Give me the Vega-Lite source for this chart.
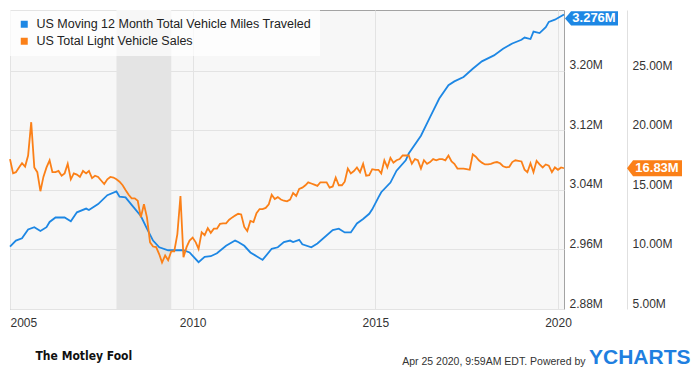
{
  "$schema": "https://vega.github.io/schema/vega-lite/v6.json",
  "width": 554,
  "height": 299,
  "autosize": {"type": "none"},
  "padding": {"left": 10, "top": 10, "right": 136, "bottom": 66},
  "background": "#ffffff",
  "config": {
    "font": "Liberation Sans",
    "view": {"fill": "#f7f7f7", "stroke": "#a3a3a3", "strokeWidth": 1},
    "axis": {"ticks": false, "labelFontSize": 12, "labelColor": "#333333", "gridColor": "#e3e3e3", "labelFont": "Liberation Sans"}
  },
  "datasets": {
    "recession": [{"d": "2007-12-01", "e": "2009-06-01"}],
    "vmt": [
      {"d": "2005-01-01", "v": 2.964}, {"d": "2005-03-01", "v": 2.972}, {"d": "2005-05-01", "v": 2.975},
      {"d": "2005-07-01", "v": 2.987}, {"d": "2005-09-01", "v": 2.990}, {"d": "2005-11-01", "v": 2.985},
      {"d": "2006-01-01", "v": 2.990}, {"d": "2006-02-01", "v": 2.997}, {"d": "2006-04-01", "v": 3.003},
      {"d": "2006-07-01", "v": 3.003}, {"d": "2006-09-01", "v": 2.998}, {"d": "2006-11-01", "v": 3.010},
      {"d": "2007-02-01", "v": 3.015}, {"d": "2007-03-01", "v": 3.013}, {"d": "2007-06-01", "v": 3.021},
      {"d": "2007-09-01", "v": 3.033}, {"d": "2007-12-01", "v": 3.038}, {"d": "2008-01-01", "v": 3.031},
      {"d": "2008-03-01", "v": 3.030}, {"d": "2008-05-01", "v": 3.020}, {"d": "2008-08-01", "v": 3.005},
      {"d": "2008-10-01", "v": 2.988}, {"d": "2008-12-01", "v": 2.972}, {"d": "2009-02-01", "v": 2.963},
      {"d": "2009-05-01", "v": 2.959}, {"d": "2009-08-01", "v": 2.959}, {"d": "2009-10-01", "v": 2.959},
      {"d": "2009-12-01", "v": 2.956}, {"d": "2010-03-01", "v": 2.943}, {"d": "2010-05-01", "v": 2.950},
      {"d": "2010-07-01", "v": 2.951}, {"d": "2010-09-01", "v": 2.955}, {"d": "2010-12-01", "v": 2.965},
      {"d": "2011-03-01", "v": 2.972}, {"d": "2011-04-01", "v": 2.970}, {"d": "2011-06-01", "v": 2.965},
      {"d": "2011-08-01", "v": 2.956}, {"d": "2011-12-01", "v": 2.946}, {"d": "2012-03-01", "v": 2.961},
      {"d": "2012-05-01", "v": 2.963}, {"d": "2012-07-01", "v": 2.970}, {"d": "2012-09-01", "v": 2.972},
      {"d": "2012-10-01", "v": 2.970}, {"d": "2012-12-01", "v": 2.973}, {"d": "2013-01-01", "v": 2.967},
      {"d": "2013-04-01", "v": 2.963}, {"d": "2013-06-01", "v": 2.968}, {"d": "2013-11-01", "v": 2.986},
      {"d": "2014-01-01", "v": 2.988}, {"d": "2014-03-01", "v": 2.983}, {"d": "2014-05-01", "v": 2.983},
      {"d": "2014-07-01", "v": 2.995}, {"d": "2014-09-01", "v": 3.001}, {"d": "2014-11-01", "v": 3.008},
      {"d": "2014-12-01", "v": 3.014}, {"d": "2015-01-01", "v": 3.022}, {"d": "2015-02-01", "v": 3.030},
      {"d": "2015-03-01", "v": 3.037}, {"d": "2015-06-01", "v": 3.050}, {"d": "2015-08-01", "v": 3.066},
      {"d": "2015-11-01", "v": 3.080}, {"d": "2015-12-01", "v": 3.089}, {"d": "2016-04-01", "v": 3.113},
      {"d": "2016-07-01", "v": 3.138}, {"d": "2016-10-01", "v": 3.163}, {"d": "2017-01-01", "v": 3.181},
      {"d": "2017-03-01", "v": 3.186}, {"d": "2017-06-01", "v": 3.192}, {"d": "2017-09-01", "v": 3.203},
      {"d": "2017-12-01", "v": 3.213}, {"d": "2018-04-01", "v": 3.221}, {"d": "2018-07-01", "v": 3.230},
      {"d": "2018-10-01", "v": 3.237}, {"d": "2019-01-01", "v": 3.242}, {"d": "2019-02-01", "v": 3.245},
      {"d": "2019-04-01", "v": 3.243}, {"d": "2019-05-01", "v": 3.253}, {"d": "2019-07-01", "v": 3.251},
      {"d": "2019-09-01", "v": 3.259}, {"d": "2019-10-01", "v": 3.266}, {"d": "2019-12-01", "v": 3.269},
      {"d": "2020-03-01", "v": 3.276}
    ],
    "sales": [
      {"d": "2005-01-01", "s": 17.6}, {"d": "2005-02-01", "s": 16.4}, {"d": "2005-03-01", "s": 16.5},
      {"d": "2005-04-01", "s": 16.9}, {"d": "2005-05-01", "s": 17.25}, {"d": "2005-06-01", "s": 16.97},
      {"d": "2005-07-01", "s": 17.9}, {"d": "2005-08-01", "s": 20.7}, {"d": "2005-09-01", "s": 16.9},
      {"d": "2005-10-01", "s": 16.5}, {"d": "2005-11-01", "s": 14.9}, {"d": "2005-12-01", "s": 16.1},
      {"d": "2006-01-01", "s": 16.9}, {"d": "2006-02-01", "s": 17.5}, {"d": "2006-03-01", "s": 16.5},
      {"d": "2006-04-01", "s": 16.5}, {"d": "2006-05-01", "s": 16.6}, {"d": "2006-06-01", "s": 16.2},
      {"d": "2006-07-01", "s": 16.4}, {"d": "2006-08-01", "s": 17.2}, {"d": "2006-09-01", "s": 15.9},
      {"d": "2006-10-01", "s": 16.4}, {"d": "2006-11-01", "s": 16.3}, {"d": "2006-12-01", "s": 16.1},
      {"d": "2007-01-01", "s": 16.6}, {"d": "2007-02-01", "s": 16.4}, {"d": "2007-03-01", "s": 16.6},
      {"d": "2007-04-01", "s": 16.0}, {"d": "2007-05-01", "s": 16.2}, {"d": "2007-06-01", "s": 16.1},
      {"d": "2007-07-01", "s": 15.8}, {"d": "2007-08-01", "s": 15.5}, {"d": "2007-09-01", "s": 15.9},
      {"d": "2007-10-01", "s": 16.1}, {"d": "2007-11-01", "s": 16.05}, {"d": "2007-12-01", "s": 15.9},
      {"d": "2008-01-01", "s": 15.7}, {"d": "2008-02-01", "s": 15.4}, {"d": "2008-03-01", "s": 15.0},
      {"d": "2008-04-01", "s": 14.6}, {"d": "2008-05-01", "s": 14.3}, {"d": "2008-06-01", "s": 14.3},
      {"d": "2008-07-01", "s": 14.1}, {"d": "2008-08-01", "s": 12.7}, {"d": "2008-09-01", "s": 13.8},
      {"d": "2008-10-01", "s": 12.7}, {"d": "2008-11-01", "s": 10.6}, {"d": "2008-12-01", "s": 10.25},
      {"d": "2009-01-01", "s": 10.2}, {"d": "2009-02-01", "s": 9.6}, {"d": "2009-03-01", "s": 8.9},
      {"d": "2009-04-01", "s": 9.5}, {"d": "2009-05-01", "s": 9.1}, {"d": "2009-06-01", "s": 9.85},
      {"d": "2009-07-01", "s": 9.85}, {"d": "2009-08-01", "s": 11.3}, {"d": "2009-09-01", "s": 14.5},
      {"d": "2009-10-01", "s": 9.35}, {"d": "2009-11-01", "s": 10.2}, {"d": "2009-12-01", "s": 10.75},
      {"d": "2010-01-01", "s": 11.0}, {"d": "2010-02-01", "s": 10.6}, {"d": "2010-03-01", "s": 10.05},
      {"d": "2010-04-01", "s": 11.45}, {"d": "2010-05-01", "s": 11.2}, {"d": "2010-06-01", "s": 11.8},
      {"d": "2010-07-01", "s": 11.4}, {"d": "2010-08-01", "s": 11.75}, {"d": "2010-09-01", "s": 11.75},
      {"d": "2010-10-01", "s": 12.15}, {"d": "2010-11-01", "s": 12.2}, {"d": "2010-12-01", "s": 12.2},
      {"d": "2011-01-01", "s": 12.5}, {"d": "2011-02-01", "s": 12.7}, {"d": "2011-03-01", "s": 12.85},
      {"d": "2011-04-01", "s": 13.0}, {"d": "2011-05-01", "s": 12.95}, {"d": "2011-06-01", "s": 11.9},
      {"d": "2011-07-01", "s": 11.55}, {"d": "2011-08-01", "s": 12.4}, {"d": "2011-09-01", "s": 12.3},
      {"d": "2011-10-01", "s": 13.05}, {"d": "2011-11-01", "s": 13.4}, {"d": "2011-12-01", "s": 13.4},
      {"d": "2012-01-01", "s": 13.5}, {"d": "2012-02-01", "s": 13.8}, {"d": "2012-03-01", "s": 14.6},
      {"d": "2012-04-01", "s": 14.25}, {"d": "2012-05-01", "s": 14.4}, {"d": "2012-06-01", "s": 14.2},
      {"d": "2012-07-01", "s": 14.1}, {"d": "2012-08-01", "s": 14.05}, {"d": "2012-09-01", "s": 14.2},
      {"d": "2012-10-01", "s": 14.75}, {"d": "2012-11-01", "s": 14.5}, {"d": "2012-12-01", "s": 15.1},
      {"d": "2013-01-01", "s": 15.2}, {"d": "2013-02-01", "s": 15.4}, {"d": "2013-03-01", "s": 15.65},
      {"d": "2013-04-01", "s": 15.55}, {"d": "2013-05-01", "s": 15.45}, {"d": "2013-06-01", "s": 15.35},
      {"d": "2013-07-01", "s": 15.65}, {"d": "2013-08-01", "s": 15.65}, {"d": "2013-09-01", "s": 15.65},
      {"d": "2013-10-01", "s": 15.2}, {"d": "2013-11-01", "s": 15.3}, {"d": "2013-12-01", "s": 16.05},
      {"d": "2014-01-01", "s": 15.4}, {"d": "2014-02-01", "s": 15.4}, {"d": "2014-03-01", "s": 15.7},
      {"d": "2014-04-01", "s": 16.8}, {"d": "2014-05-01", "s": 16.4}, {"d": "2014-06-01", "s": 16.6},
      {"d": "2014-07-01", "s": 16.9}, {"d": "2014-08-01", "s": 16.5}, {"d": "2014-09-01", "s": 17.2},
      {"d": "2014-10-01", "s": 16.2}, {"d": "2014-11-01", "s": 16.25}, {"d": "2014-12-01", "s": 16.75},
      {"d": "2015-01-01", "s": 16.7}, {"d": "2015-02-01", "s": 16.7}, {"d": "2015-03-01", "s": 16.4},
      {"d": "2015-04-01", "s": 17.5}, {"d": "2015-05-01", "s": 16.9}, {"d": "2015-06-01", "s": 17.7},
      {"d": "2015-07-01", "s": 17.3}, {"d": "2015-08-01", "s": 17.5}, {"d": "2015-09-01", "s": 17.6},
      {"d": "2015-10-01", "s": 17.9}, {"d": "2015-11-01", "s": 17.9}, {"d": "2015-12-01", "s": 17.9},
      {"d": "2016-01-01", "s": 17.2}, {"d": "2016-02-01", "s": 17.6}, {"d": "2016-03-01", "s": 17.5},
      {"d": "2016-04-01", "s": 16.8}, {"d": "2016-05-01", "s": 17.5}, {"d": "2016-06-01", "s": 17.2},
      {"d": "2016-07-01", "s": 17.35}, {"d": "2016-08-01", "s": 17.6}, {"d": "2016-09-01", "s": 17.5},
      {"d": "2016-10-01", "s": 17.6}, {"d": "2016-11-01", "s": 17.6}, {"d": "2016-12-01", "s": 17.5},
      {"d": "2017-01-01", "s": 17.9}, {"d": "2017-02-01", "s": 17.4}, {"d": "2017-03-01", "s": 17.2},
      {"d": "2017-04-01", "s": 16.8}, {"d": "2017-05-01", "s": 16.8}, {"d": "2017-06-01", "s": 16.8},
      {"d": "2017-07-01", "s": 16.75}, {"d": "2017-08-01", "s": 16.7}, {"d": "2017-09-01", "s": 18.0},
      {"d": "2017-10-01", "s": 17.8}, {"d": "2017-11-01", "s": 17.5}, {"d": "2017-12-01", "s": 17.3},
      {"d": "2018-01-01", "s": 17.15}, {"d": "2018-02-01", "s": 17.15}, {"d": "2018-03-01", "s": 17.2},
      {"d": "2018-04-01", "s": 17.3}, {"d": "2018-05-01", "s": 17.35}, {"d": "2018-06-01", "s": 17.25},
      {"d": "2018-07-01", "s": 17.0}, {"d": "2018-08-01", "s": 16.9}, {"d": "2018-09-01", "s": 16.95},
      {"d": "2018-10-01", "s": 17.35}, {"d": "2018-11-01", "s": 17.5}, {"d": "2018-12-01", "s": 17.45},
      {"d": "2019-01-01", "s": 17.4}, {"d": "2019-02-01", "s": 16.7}, {"d": "2019-03-01", "s": 16.5},
      {"d": "2019-04-01", "s": 17.25}, {"d": "2019-05-01", "s": 16.5}, {"d": "2019-06-01", "s": 17.45},
      {"d": "2019-07-01", "s": 17.15}, {"d": "2019-08-01", "s": 16.9}, {"d": "2019-09-01", "s": 17.15},
      {"d": "2019-10-01", "s": 17.05}, {"d": "2019-11-01", "s": 16.5}, {"d": "2019-12-01", "s": 16.9},
      {"d": "2020-01-01", "s": 16.7}, {"d": "2020-02-01", "s": 16.9}, {"d": "2020-03-01", "s": 16.83}
    ],
    "vmtLast": [{"d": "2020-03-01", "v": 3.276, "label": "3.276M"}],
    "salesLast": [{"d": "2020-03-01", "s": 16.83, "label": "16.83M"}]
  },
  "encoding": {
    "x": {
      "field": "d",
      "type": "temporal",
      "scale": {"type": "utc", "domain": [{"year": 2005, "month": 1, "date": 1, "utc": true}, {"year": 2020, "month": 3, "date": 1, "utc": true}]},
      "axis": {
        "values": [{"year": 2005, "utc": true}, {"year": 2010, "utc": true}, {"year": 2015, "utc": true}, {"year": 2020, "utc": true}],
        "labelExpr": "utcFormat(datum.value, '%Y')",
        "grid": true,
        "domain": false,
        "ticks": false,
        "labelPadding": 8,
        "labelFlush": 3,
        "labelFontSize": 12,
        "labelColor": "#333333",
        "title": "The Motley Fool",
        "titleFont": "DejaVu Sans Condensed, Liberation Sans, sans-serif",
        "titleFontSize": 12,
        "titleFontWeight": "bold",
        "titleColor": "#111111",
        "titleAnchor": "start",
        "titleAlign": "left",
        "titleBaseline": "middle",
        "titleX": 25,
        "titleY": 46
      }
    }
  },
  "layer": [
    {
      "data": {"name": "recession"},
      "mark": {"type": "rect", "color": "#e4e4e4"},
      "encoding": {"x2": {"field": "e"}}
    },
    {
      "data": {"name": "vmt"},
      "layer": [
        {
          "mark": {"type": "line", "color": "#1d87e4", "strokeWidth": 1.8},
          "encoding": {
            "y": {
              "field": "v",
              "type": "quantitative",
              "scale": {"domain": [2.88, 3.282], "nice": false, "zero": false},
              "axis": {
                "orient": "right",
                "values": [2.88, 2.96, 3.04, 3.12, 3.2],
                "labelExpr": "format(datum.value, '.2f') + 'M'",
                "grid": true,
                "gridColor": "#e3e3e3",
                "domain": false,
                "ticks": false,
                "labelPadding": 5,
                "labelFontSize": 12,
                "labelColor": "#333333",
                "labelOffset": -6,
                "labelFlush": false,
                "labelBaseline": "middle",
                "title": "Apr 25 2020, 9:59AM EDT.  Powered by",
                "titleAngle": 0,
                "titleAlign": "right",
                "titleBaseline": "middle",
                "titleX": 21,
                "titleY": 351,
                "titleFontSize": 10.5,
                "titleFontWeight": "normal",
                "titleColor": "#333333"
              }
            }
          }
        },
        {
          "data": {"name": "vmtLast"},
          "mark": {"type": "point", "shape": "M-1,0L-0.77,-0.27L1,-0.27L1,0.27L-0.77,0.27Z", "size": 2809, "filled": true, "opacity": 1, "xOffset": 27.5, "yOffset": 4},
          "encoding": {
            "y": {"field": "v", "type": "quantitative", "scale": {"domain": [2.88, 3.282], "nice": false, "zero": false}},
            "color": {
              "datum": "US Moving 12 Month Total Vehicle Miles Traveled",
              "type": "nominal",
              "scale": {"domain": ["US Moving 12 Month Total Vehicle Miles Traveled", "US Total Light Vehicle Sales"], "range": ["#1d87e4", "#fb8018"]},
              "legend": {
                "title": null,
                "orient": "top-left",
                "offset": 0,
                "padding": 8,
                "fillColor": "rgba(255,255,255,0.7)",
                "symbolType": "square",
                "symbolSize": 49,
                "symbolStrokeWidth": 0,
                "labelFontSize": 12.5,
                "labelColor": "#222222",
                "labelLimit": 400,
                "labelOffset": 6,
                "rowPadding": 4
              }
            }
          }
        },
        {
          "data": {"name": "vmtLast"},
          "mark": {"type": "text", "color": "#ffffff", "fontWeight": "bold", "fontSize": 13, "align": "center", "baseline": "middle", "dx": 30, "dy": 4},
          "encoding": {
            "y": {"field": "v", "type": "quantitative", "scale": {"domain": [2.88, 3.282], "nice": false, "zero": false}},
            "text": {"field": "label"}
          }
        }
      ]
    },
    {
      "data": {"name": "sales"},
      "layer": [
        {
          "mark": {"type": "line", "color": "#fb8018", "strokeWidth": 1.8},
          "encoding": {
            "y": {
              "field": "s",
              "type": "quantitative",
              "scale": {"domain": [5, 30.13], "nice": false, "zero": false},
              "axis": {
                "orient": "right",
                "offset": 63,
                "values": [5, 10, 15, 20, 25],
                "labelExpr": "format(datum.value, '.2f') + 'M'",
                "grid": false,
                "domain": true,
                "domainColor": "#e0e0e0",
                "ticks": false,
                "labelPadding": 5,
                "labelFontSize": 12,
                "labelColor": "#333333",
                "labelOffset": -6,
                "labelFlush": false,
                "labelBaseline": "middle",
                "title": "YCHARTS",
                "titleAngle": 0,
                "titleAlign": "right",
                "titleBaseline": "middle",
                "titleX": 63,
                "titleY": 347,
                "titleFontSize": 21,
                "titleFontWeight": "bold",
                "titleColor": "#1f7fe0"
              }
            }
          }
        },
        {
          "data": {"name": "salesLast"},
          "mark": {"type": "point", "shape": "M-1,0L-0.78,-0.29L1,-0.29L1,0.29L-0.78,0.29Z", "size": 3025, "filled": true, "opacity": 1, "xOffset": 90.5},
          "encoding": {
            "y": {"field": "s", "type": "quantitative", "scale": {"domain": [5, 30.13], "nice": false, "zero": false}},
            "color": {"datum": "US Total Light Vehicle Sales", "type": "nominal"}
          }
        },
        {
          "data": {"name": "salesLast"},
          "mark": {"type": "text", "color": "#ffffff", "fontWeight": "bold", "fontSize": 13, "align": "center", "baseline": "middle", "dx": 93},
          "encoding": {
            "y": {"field": "s", "type": "quantitative", "scale": {"domain": [5, 30.13], "nice": false, "zero": false}},
            "text": {"field": "label"}
          }
        }
      ]
    }
  ],
  "resolve": {"scale": {"y": "independent"}}
}
